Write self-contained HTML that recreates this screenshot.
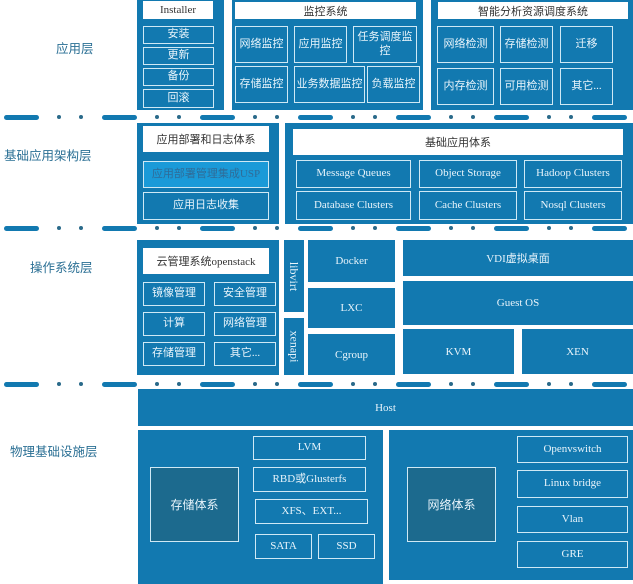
<!DOCTYPE html>
<html><head><meta charset="utf-8"><style>
*{margin:0;padding:0;box-sizing:border-box}
body{width:633px;height:584px;background:#fff;position:relative;overflow:hidden;font-family:"Liberation Serif","Noto Sans CJK SC",serif}
.b{position:absolute;background:#1279b0}
.c{position:absolute;border:1px solid #cfe9f5;color:#e8f4fb;font-size:11px;display:flex;align-items:center;justify-content:center;text-align:center;line-height:1.2;font-family:"Liberation Serif","Noto Sans CJK SC",serif}
.w{position:absolute;background:#fff;color:#333;font-size:11px;display:flex;align-items:center;justify-content:center;font-family:"Liberation Serif","Noto Sans CJK SC",serif}
.f{position:absolute;background:#1279b0;color:#e8f4fb;font-size:11px;display:flex;align-items:center;justify-content:center}
.d{position:absolute;background:#1c6a8e;border:1px solid #cfe9f5;color:#e8f4fb;font-size:12px;display:flex;align-items:center;justify-content:center;font-family:"Noto Sans CJK SC",sans-serif}
.l{position:absolute;color:#2a6f94;font-size:12.5px;font-family:"Noto Sans CJK SC",sans-serif;white-space:nowrap}
.sd{position:absolute;height:5px;border-radius:3px;background:#1279b0}
.dt{position:absolute;width:4px;height:4px;border-radius:2px;background:#2a6a8a}
</style></head><body>

<div class="l" style="left:56px;top:38px">应用层</div>
<div class="l" style="left:4px;top:145px">基础应用架构层</div>
<div class="l" style="left:30px;top:257px">操作系统层</div>
<div class="l" style="left:10px;top:441px">物理基础设施层</div>

<div class="b" style="left:137px;top:0;width:87px;height:110px"></div>
<div class="w" style="left:143px;top:1px;width:70px;height:18px">Installer</div>
<div class="c" style="left:143px;top:26px;width:71px;height:18px">安装</div>
<div class="c" style="left:143px;top:47px;width:71px;height:18px">更新</div>
<div class="c" style="left:143px;top:68px;width:71px;height:18px">备份</div>
<div class="c" style="left:143px;top:89px;width:71px;height:19px">回滚</div>

<div class="b" style="left:232px;top:0;width:191px;height:110px"></div>
<div class="w" style="left:235px;top:2px;width:181px;height:17px">监控系统</div>
<div class="c" style="left:235px;top:26px;width:53px;height:37px">网络监控</div>
<div class="c" style="left:294px;top:26px;width:53px;height:37px">应用监控</div>
<div class="c" style="left:353px;top:26px;width:64px;height:37px">任务调度监<br>控</div>
<div class="c" style="left:235px;top:66px;width:53px;height:37px">存储监控</div>
<div class="c" style="left:294px;top:66px;width:71px;height:37px">业务数据监控</div>
<div class="c" style="left:367px;top:66px;width:53px;height:37px">负载监控</div>

<div class="b" style="left:431px;top:0;width:202px;height:110px"></div>
<div class="w" style="left:438px;top:2px;width:190px;height:17px">智能分析资源调度系统</div>
<div class="c" style="left:437px;top:26px;width:57px;height:37px">网络检测</div>
<div class="c" style="left:500px;top:26px;width:53px;height:37px">存储检测</div>
<div class="c" style="left:560px;top:26px;width:53px;height:37px">迁移</div>
<div class="c" style="left:437px;top:68px;width:57px;height:37px">内存检测</div>
<div class="c" style="left:500px;top:68px;width:53px;height:37px">可用检测</div>
<div class="c" style="left:560px;top:68px;width:53px;height:37px">其它...</div>

<div class="b" style="left:137px;top:123px;width:142px;height:101px"></div>
<div class="w" style="left:143px;top:126px;width:126px;height:26px">应用部署和日志体系</div>
<div class="c" style="left:143px;top:161px;width:126px;height:27px;background:#1a9ad8;color:#2f6c98">应用部署管理集成USP</div>
<div class="c" style="left:143px;top:192px;width:126px;height:28px">应用日志收集</div>

<div class="b" style="left:285px;top:123px;width:348px;height:101px"></div>
<div class="w" style="left:293px;top:129px;width:330px;height:26px">基础应用体系</div>
<div class="c" style="left:296px;top:160px;width:115px;height:28px">Message Queues</div>
<div class="c" style="left:419px;top:160px;width:98px;height:28px">Object Storage</div>
<div class="c" style="left:524px;top:160px;width:98px;height:28px">Hadoop Clusters</div>
<div class="c" style="left:296px;top:191px;width:115px;height:29px">Database Clusters</div>
<div class="c" style="left:419px;top:191px;width:98px;height:29px">Cache Clusters</div>
<div class="c" style="left:524px;top:191px;width:98px;height:29px">Nosql Clusters</div>

<div class="b" style="left:137px;top:240px;width:142px;height:135px"></div>
<div class="w" style="left:143px;top:248px;width:126px;height:26px">云管理系统openstack</div>
<div class="c" style="left:143px;top:282px;width:62px;height:24px">镜像管理</div>
<div class="c" style="left:214px;top:282px;width:62px;height:24px">安全管理</div>
<div class="c" style="left:143px;top:312px;width:62px;height:24px">计算</div>
<div class="c" style="left:214px;top:312px;width:62px;height:24px">网络管理</div>
<div class="c" style="left:143px;top:342px;width:62px;height:24px">存储管理</div>
<div class="c" style="left:214px;top:342px;width:62px;height:24px">其它...</div>

<div class="f" style="left:284px;top:240px;width:20px;height:72px;font-size:12px"><span style="transform:rotate(90deg);white-space:nowrap">libvirt</span></div>
<div class="f" style="left:284px;top:318px;width:20px;height:57px;font-size:12px"><span style="transform:rotate(90deg);white-space:nowrap">xenapi</span></div>
<div class="f" style="left:308px;top:240px;width:87px;height:42px">Docker</div>
<div class="f" style="left:308px;top:288px;width:87px;height:40px">LXC</div>
<div class="f" style="left:308px;top:334px;width:87px;height:41px">Cgroup</div>
<div class="f" style="left:403px;top:240px;width:230px;height:36px">VDI虚拟桌面</div>
<div class="f" style="left:403px;top:281px;width:230px;height:44px">Guest OS</div>
<div class="f" style="left:403px;top:329px;width:111px;height:45px">KVM</div>
<div class="f" style="left:522px;top:329px;width:111px;height:45px">XEN</div>

<div class="f" style="left:138px;top:389px;width:495px;height:37px">Host</div>

<div class="b" style="left:138px;top:430px;width:245px;height:154px"></div>
<div class="d" style="left:150px;top:467px;width:89px;height:75px">存储体系</div>
<div class="c" style="left:253px;top:436px;width:113px;height:24px">LVM</div>
<div class="c" style="left:253px;top:467px;width:113px;height:25px">RBD或Glusterfs</div>
<div class="c" style="left:255px;top:499px;width:113px;height:25px">XFS、EXT...</div>
<div class="c" style="left:255px;top:534px;width:57px;height:25px">SATA</div>
<div class="c" style="left:318px;top:534px;width:57px;height:25px">SSD</div>

<div class="b" style="left:389px;top:430px;width:244px;height:150px"></div>
<div class="d" style="left:407px;top:467px;width:89px;height:75px">网络体系</div>
<div class="c" style="left:517px;top:436px;width:111px;height:27px">Openvswitch</div>
<div class="c" style="left:517px;top:470px;width:111px;height:28px">Linux bridge</div>
<div class="c" style="left:517px;top:506px;width:111px;height:27px">Vlan</div>
<div class="c" style="left:517px;top:541px;width:111px;height:27px">GRE</div>

<div id="seps"></div>
<script>
var h='';[[115],[226],[382]].forEach(function(r){var y=r[0];
for(var k=0;k<7;k++){var x=4+98*k;h+='<div class="sd" style="left:'+x+'px;top:'+y+'px;width:35px"></div>';
h+='<div class="dt" style="left:'+(x+53)+'px;top:'+y+'px"></div><div class="dt" style="left:'+(x+75)+'px;top:'+y+'px"></div>';}});
document.getElementById('seps').innerHTML=h;
</script>
</body></html>
